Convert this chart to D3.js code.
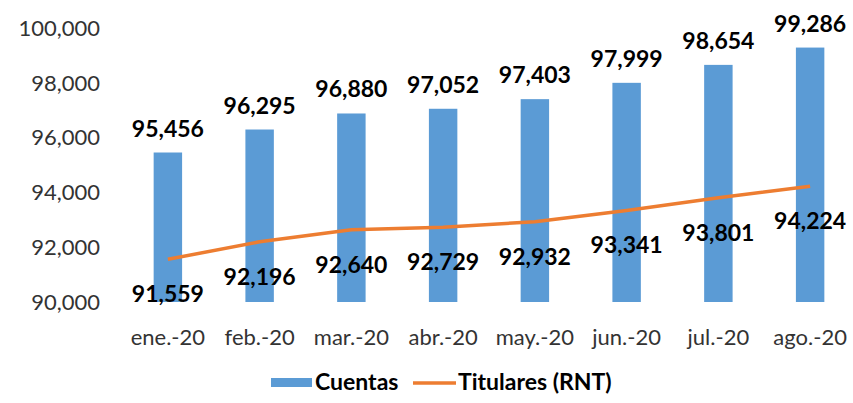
<!DOCTYPE html>
<html>
<head>
<meta charset="utf-8">
<script src="https://cdn.jsdelivr.net/npm/d3@7"></script>
<style>
  body { margin: 0; background: #fff; }
  svg { display: block; font-family: Lato, "Open Sans", sans-serif; }
</style>
</head>
<body>
<div id="chart-area"></div>
<script>
// Data
var months = ["ene.-20", "feb.-20", "mar.-20", "abr.-20", "may.-20", "jun.-20", "jul.-20", "ago.-20"];
var cuentas = [95456, 96295, 96880, 97052, 97403, 97999, 98654, 99286];
var titulares = [91559, 92196, 92640, 92729, 92932, 93341, 93801, 94224];
var yTicks = [90000, 92000, 94000, 96000, 98000, 100000];
var seriesNames = ["Cuentas", "Titulares (RNT)"];

// Colors
var barColor = "#5B9BD5";
var lineColor = "#ED7D31";

// Canvas Size
var canvasWidth = 853;
var canvasHeight = 403;

var canvas = d3.select("#chart-area")
	.append("svg")
	.attr("width", canvasWidth)
	.attr("height", canvasHeight);

// X - Scale
var x = d3.scaleBand()
	.domain(months)
	.range([122, 856])
	.paddingInner(0.69)
	.paddingOuter(0.345);

// Y - Scale
var y = d3.scaleLinear()
	.domain([90000, 100000])
	.range([302, 28]);

var fmt = d3.format(",");

// Y - axis
var yAxis = canvas.append("g")
	.attr("transform", "translate(100,0)")
	.call(d3.axisLeft(y).tickValues(yTicks).tickSize(0).tickPadding(0).tickFormat(fmt));
yAxis.select(".domain").remove();
yAxis.selectAll("text")
	.attr("font-family", "Lato, sans-serif")
	.attr("font-size", "22px")
	.attr("fill", "#333")
	.attr("dy", "0.33em");

// X - axis
var xAxis = canvas.append("g")
	.attr("transform", "translate(0,302)")
	.call(d3.axisBottom(x).tickSize(0).tickPadding(0));
xAxis.select(".domain").remove();
xAxis.selectAll("text")
	.attr("font-family", "Lato, sans-serif")
	.attr("font-size", "22px")
	.attr("fill", "#333")
	.attr("dy", null)
	.attr("y", 43);

// Bars
canvas.selectAll("rect.bar")
	.data(cuentas)
	.enter()
	.append("rect")
	.attr("class", "bar")
	.attr("x", function(d, i){ return x(months[i]); })
	.attr("width", x.bandwidth())
	.attr("y", function(d){ return y(d); })
	.attr("height", function(d){ return y(90000) - y(d); })
	.attr("fill", barColor);

// Bar labels
canvas.selectAll("text.bar-label")
	.data(cuentas)
	.enter()
	.append("text")
	.attr("class", "bar-label")
	.attr("x", function(d, i){ return x(months[i]) + x.bandwidth() / 2; })
	.attr("y", function(d){ return y(d) - 16; })
	.attr("text-anchor", "middle")
	.attr("font-size", "23px")
	.attr("font-weight", "bold")
	.attr("fill", "#000")
	.text(function(d){ return fmt(d); });

// Line
var line = d3.line()
	.x(function(d, i){ return x(months[i]) + x.bandwidth() / 2; })
	.y(function(d){ return y(d); });

canvas.append("path")
	.datum(titulares)
	.attr("d", line)
	.attr("fill", "none")
	.attr("stroke", lineColor)
	.attr("stroke-width", 3.5)
	.attr("stroke-linejoin", "round");

// Line labels
canvas.selectAll("text.line-label")
	.data(titulares)
	.enter()
	.append("text")
	.attr("class", "line-label")
	.attr("x", function(d, i){ return x(months[i]) + x.bandwidth() / 2; })
	.attr("y", function(d){ return y(d) + 43; })
	.attr("text-anchor", "middle")
	.attr("font-size", "23px")
	.attr("font-weight", "bold")
	.attr("fill", "#000")
	.text(function(d){ return fmt(d); });

// Legend
var legend = canvas.append("g");

legend.append("rect")
	.attr("x", 271)
	.attr("y", 378)
	.attr("width", 41)
	.attr("height", 9)
	.attr("fill", barColor);

legend.append("text")
	.attr("x", 315)
	.attr("y", 390)
	.attr("font-size", "23px")
	.attr("font-weight", "bold")
	.attr("fill", "#000")
	.text(seriesNames[0]);

legend.append("line")
	.attr("x1", 413)
	.attr("x2", 456)
	.attr("y1", 383)
	.attr("y2", 383)
	.attr("stroke", lineColor)
	.attr("stroke-width", 3.5);

legend.append("text")
	.attr("x", 458)
	.attr("y", 390)
	.attr("font-size", "23px")
	.attr("font-weight", "bold")
	.attr("fill", "#000")
	.text(seriesNames[1]);
</script>
</body>
</html>
